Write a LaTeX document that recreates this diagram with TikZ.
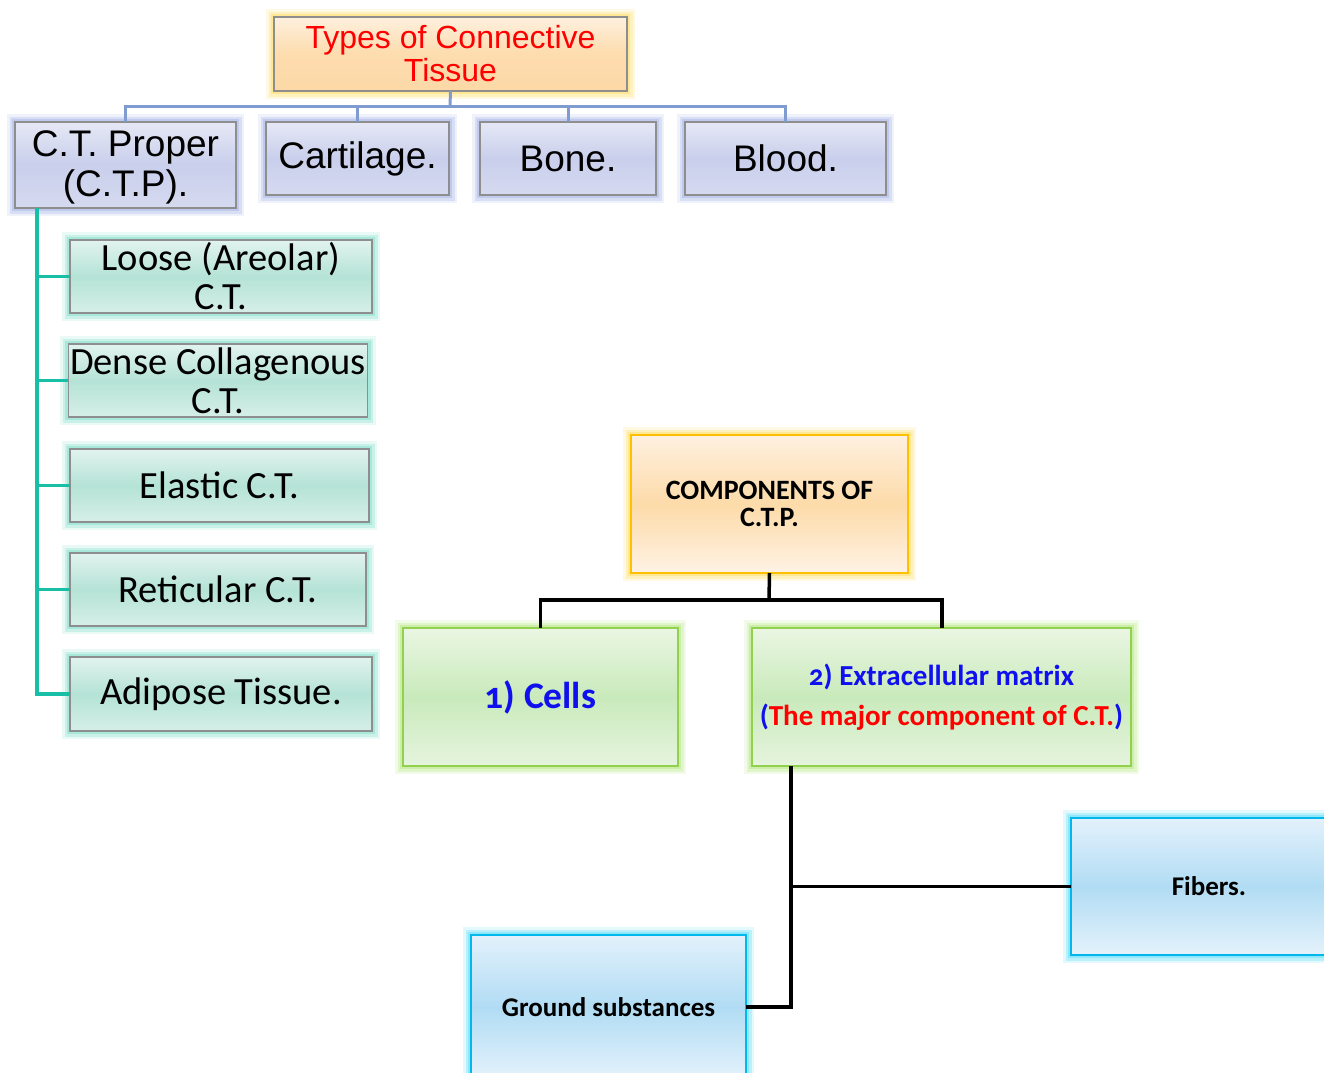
\documentclass[tikz,border=0pt]{standalone}
\usepackage{fontspec}
\setmainfont{Liberation Sans}
\newfontfamily\calfont[Numbers=OldStyle]{Carlito}
\usetikzlibrary{calc}
\definecolor{glowY}{HTML}{FFD84A}
\definecolor{glowB}{HTML}{93A5E0}
\definecolor{glowT}{HTML}{6AD8C0}
\definecolor{glowG}{HTML}{A8E46A}
\definecolor{glowC}{HTML}{40D6F8}
\definecolor{bordG}{HTML}{8E8E8E}
\definecolor{lineB}{HTML}{7F9BD0}
\definecolor{lineT}{HTML}{16BFA6}
\definecolor{txtB}{HTML}{1010EE}
\definecolor{bTop}{HTML}{E6E8F5}\definecolor{bMid}{HTML}{C9CFEC}\definecolor{bBot}{HTML}{D6DAF0}
\definecolor{tTop}{HTML}{E2F3EF}\definecolor{tMid}{HTML}{B5E3D6}\definecolor{tBot}{HTML}{D6EFE8}
\definecolor{oTop}{HTML}{FEF0DE}\definecolor{oMid}{HTML}{FDDCAE}\definecolor{oBot}{HTML}{FCD8A6}
\definecolor{cTop}{HTML}{FEF0E0}\definecolor{cMid}{HTML}{FDDBA9}\definecolor{cBot}{HTML}{FEF2E4}
\definecolor{gTop}{HTML}{EAF6E3}\definecolor{gMid}{HTML}{C9EABB}\definecolor{gBot}{HTML}{E6F4DE}
\definecolor{sTop}{HTML}{E3F1FB}\definecolor{sMid}{HTML}{B1DCF4}\definecolor{sBot}{HTML}{E4F2FB}
\definecolor{bordGr}{HTML}{92D050}
\definecolor{bordCy}{HTML}{00B8EC}
\definecolor{bordOr}{HTML}{FFC000}
\tikzset{
  glow/.style={preaction={draw=#1,line width=16pt,draw opacity=0.15},
               preaction={draw=#1,line width=11pt,draw opacity=0.25},
               preaction={draw=#1,line width=6pt,draw opacity=0.35}},
  box/.style={rectangle,inner sep=2pt,outer sep=0pt,align=center,line width=1.2pt},
  titlebox/.style={box,glow=glowY,draw=bordG,top color=oTop,bottom color=oBot,middle color=oMid},
  bluebox/.style={box,glow=glowB,draw=bordG,top color=bTop,bottom color=bBot,middle color=bMid},
  tealbox/.style={box,glow=glowT,draw=bordG,top color=tTop,bottom color=tBot,middle color=tMid},
  compbox/.style={box,glow=glowY,draw=bordOr,line width=2pt,top color=cTop,bottom color=cBot,middle color=cMid},
  greenbox/.style={box,glow=glowG,draw=bordGr,line width=2pt,top color=gTop,bottom color=gBot,middle color=gMid},
  cyanbox/.style={box,glow=glowC,draw=bordCy,line width=2pt,top color=sTop,bottom color=sBot,middle color=sMid},
  bconn/.style={draw=lineB,line width=3pt},
  tconn/.style={draw=lineT,line width=3.5pt},
  kconn/.style={draw=black,line width=3.5pt},
}
\begin{document}
\begin{tikzpicture}[x=1pt,y=-1pt]
\useasboundingbox (0,0) rectangle (1324,1072);
\clip (0,0) rectangle (1324,1072);
% top tree
\node[titlebox,minimum width=353pt,minimum height=74pt,font=\fontsize{32}{33}\selectfont,text=red] (title) at (450.5,54) {Types of Connective\\Tissue};
\node[bluebox,minimum width=221pt,minimum height=86pt,font=\fontsize{37}{40}\selectfont] (ctp) at (125.5,165) {\raisebox{-3pt}[\height][\depth]{\begin{tabular}{@{}c@{}}C.T. Proper\\(C.T.P).\end{tabular}}};
\node[bluebox,minimum width=183pt,minimum height=73pt,font=\fontsize{37}{38}\selectfont] (cart) at (357.5,158.5) {Cartilage.};
\node[bluebox,minimum width=176pt,minimum height=73pt,font=\fontsize{37}{38}\selectfont] (bone) at (568,158.5) {Bone.};
\node[bluebox,minimum width=201pt,minimum height=73pt,font=\fontsize{37}{38}\selectfont] (blood) at (785.5,158.5) {Blood.};
\coordinate (bus) at (450,106);
\draw[bconn] (title.south) -- (bus);
\draw[bconn] (ctp.north) -- (ctp.north |- bus) -- (blood.north |- bus) -- (blood.north);
\draw[bconn] (cart.north) -- (cart.north |- bus);
\draw[bconn] (bone.north) -- (bone.north |- bus);
% left list
\begin{scope}[every node/.append style={tealbox,font=\calfont\fontsize{38.5}{39}\selectfont}]
\node[minimum width=302pt,minimum height=73pt] (loose) at (221,276.5) {Loose (Areolar)\\C.T.};
\node[minimum width=296pt,minimum height=73pt] (dense) at (218,380.5) {Dense Collagenous\\C.T.};
\node[minimum width=299pt,minimum height=73pt] (elas) at (219.5,485.5) {Elastic C.T.};
\node[minimum width=296pt,minimum height=73pt] (reti) at (218,589.5) {Reticular C.T.};
\node[minimum width=302pt,minimum height=74pt] (adip) at (221,694) {Adipose Tissue.};
\end{scope}
\coordinate (trunk) at (37,0);
\draw[tconn] (ctp.south -| trunk) -- (adip.west -| trunk) -- (adip.west);
\draw[tconn] (loose.west -| trunk) -- (loose.west);
\draw[tconn] (dense.west -| trunk) -- (dense.west);
\draw[tconn] (elas.west -| trunk) -- (elas.west);
\draw[tconn] (reti.west -| trunk) -- (reti.west);
% components
\node[compbox,minimum width=277pt,minimum height=138pt,font=\calfont\bfseries\fontsize{28}{27}\selectfont] (comp) at (769.5,504) {COMPONENTS OF\\C.T.P.};
\node[greenbox,minimum width=275pt,minimum height=138pt,font=\calfont\bfseries\fontsize{37.5}{38}\selectfont,text=txtB] (cells) at (540.5,697) {1) Cells};
\node[greenbox,minimum width=379pt,minimum height=138pt,font=\calfont\bfseries\fontsize{29}{40}\selectfont,text=txtB] (ecm) at (941.5,697) {2) Extracellular matrix\\(\textcolor{red}{The major component of C.T.})};
\coordinate (cbus) at (769,600);
\draw[kconn] (comp.south) -- (cbus);
\draw[kconn] (cells.north) -- (cells.north |- cbus) -- (cbus -| 942,0) -- (942,628);
\node[cyanbox,minimum width=276pt,minimum height=137pt,font=\calfont\bfseries\fontsize{27}{28}\selectfont] (fib) at (1209,886.5) {Fibers.};
\node[cyanbox,minimum width=275pt,minimum height=144pt,font=\calfont\bfseries\fontsize{27}{28}\selectfont] (grd) at (608.5,1007) {Ground substances};
\coordinate (stem) at (791,766);
\draw[kconn] (stem) -- (stem |- grd.east) -- (grd.east);
\draw[kconn] (stem |- fib.west) -- (fib.west);
\end{tikzpicture}
\end{document}
